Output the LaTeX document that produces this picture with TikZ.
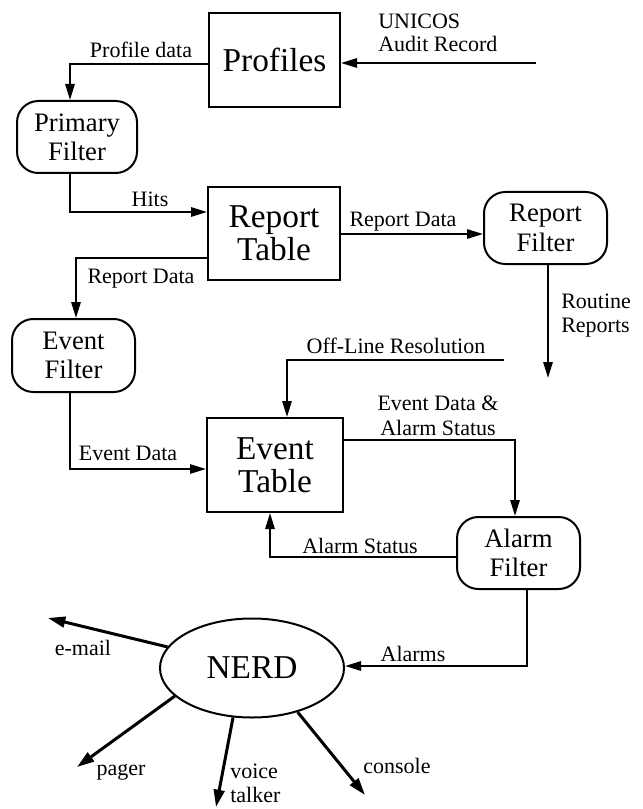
\documentclass[tikz,border=0pt]{standalone}
\usepackage{fontspec}
\setmainfont{Liberation Serif}
\usetikzlibrary{arrows.meta,shapes.geometric}
\begin{document}
\begin{tikzpicture}[x=0.75pt,y=-0.75pt,
  big/.style={font=\fontsize{25}{25}\selectfont},
  mid/.style={font=\fontsize{20}{22}\selectfont},
  lab/.style={font=\fontsize{16.5}{17.5}\selectfont, inner sep=0pt},
  store/.style={draw, line width=1.5pt, inner sep=0pt, align=center, big},
  proc/.style={draw, line width=1.5pt, rounded corners=16pt, inner sep=0pt, align=center, mid},
  flow/.style={line width=1.5pt, -{Triangle[length=12pt,width=7pt]}},
  outflow/.style={line width=2.25pt, -{Triangle[length=13pt,width=8pt]}},
]
\useasboundingbox (0,0) rectangle (642,809);

% boxes
\node[store, minimum width=98.25pt, minimum height=70.5pt] (profiles) at (274.5,60) {Profiles};
\node[proc, minimum width=90pt, minimum height=54pt] (primary) at (77,137) {Primary\\Filter};
\node[store, minimum width=99pt, minimum height=69.75pt] (rtable) at (274,233.5) {Report\\Table};
\node[proc, minimum width=92.25pt, minimum height=54pt] (rfilter) at (545.5,228) {Report\\Filter};
\node[proc, minimum width=92.25pt, minimum height=54.75pt] (efilter) at (73.5,355.5) {Event\\Filter};
\node[store, minimum width=102pt, minimum height=70.5pt] (etable) at (275,465) {Event\\Table};
\node[proc, minimum width=92.25pt, minimum height=54pt] (afilter) at (518.5,553) {Alarm\\Filter};
\node[draw, ellipse, line width=1.5pt, minimum width=138pt, minimum height=74.25pt, inner sep=0pt, big] (nerd) at (252,668) {NERD};

% connectors
\coordinate (uin) at (536,63);
\draw[flow] (uin) -- (uin -| profiles.east);
\coordinate (pd) at (70,64);
\draw[flow] (pd -| profiles.west) -| (primary.north -| pd);
\coordinate (hits) at (70,212);
\draw[flow] (primary.south -| hits) |- (rtable.west |- hits);
\coordinate (rd1) at (0,234);
\draw[flow] (rtable.east |- rd1) -- (rfilter.west |- rd1);
\coordinate (rd2) at (76,258);
\draw[flow] (rtable.west |- rd2) -| (efilter.north -| rd2);
\coordinate (rr) at (548,378);
\draw[flow] (rfilter.south -| rr) -- (rr);
\coordinate (olA) at (504,360);
\coordinate (olB) at (287,360);
\draw[flow] (olA) -| (etable.north -| olB);
\coordinate (ed) at (70,469);
\draw[flow] (efilter.south -| ed) |- (etable.west |- ed);
\coordinate (eda) at (515,440);
\draw[flow] (etable.east |- eda) -| (afilter.north -| eda);
\coordinate (as) at (270,557);
\draw[flow] (afilter.west |- as) -| (etable.south -| as);
\coordinate (al) at (527,666);
\draw[flow] (afilter.south -| al) |- (nerd.east |- al);

\coordinate (tmail) at (48,618);
\coordinate (tpager) at (77,767);
\coordinate (tvoice) at (216,807);
\coordinate (tcons) at (365,795);
\draw[outflow] (nerd.166) -- (tmail);
\draw[outflow] (nerd.200) -- (tpager);
\draw[outflow] (nerd.249) -- (tvoice);
\draw[outflow] (nerd.316) -- (tcons);

% labels
\node[lab, anchor=base] (lpd) at (141,58) {Profile data};
\node[lab, anchor=base west] (lun1) at (378,29) {UNICOS};
\node[lab, anchor=base west] (lun2) at (378,52) {Audit Record};
\node[lab, anchor=base] (lhits) at (150,207) {Hits};
\node[lab, anchor=base] (lrd1) at (403,227) {Report Data};
\node[lab, anchor=base] (lrd2) at (141,283) {Report Data};
\node[lab, anchor=base west] (lrr1) at (561,308) {Routine};
\node[lab, anchor=base west] (lrr2) at (561,332) {Reports};
\node[lab, anchor=base] (lol) at (396,353) {Off-Line Resolution};
\node[lab, anchor=base] (leda1) at (438,410) {Event Data \&};
\node[lab, anchor=base] (leda2) at (438,435) {Alarm Status};
\node[lab, anchor=base] (led) at (128,460) {Event Data};
\node[lab, anchor=base] (las) at (360,553) {Alarm Status};
\node[lab, anchor=base] (lal) at (413,661) {Alarms};
\node[lab, anchor=base] (lmail) at (83,655) {e-mail};
\node[lab, anchor=base] (lpager) at (121,775) {pager};
\node[lab, anchor=base west] (lv1) at (230,778) {voice};
\node[lab, anchor=base west] (lv2) at (230,802) {talker};
\node[lab, anchor=base] (lcons) at (397,773) {console};
\end{tikzpicture}
\end{document}
